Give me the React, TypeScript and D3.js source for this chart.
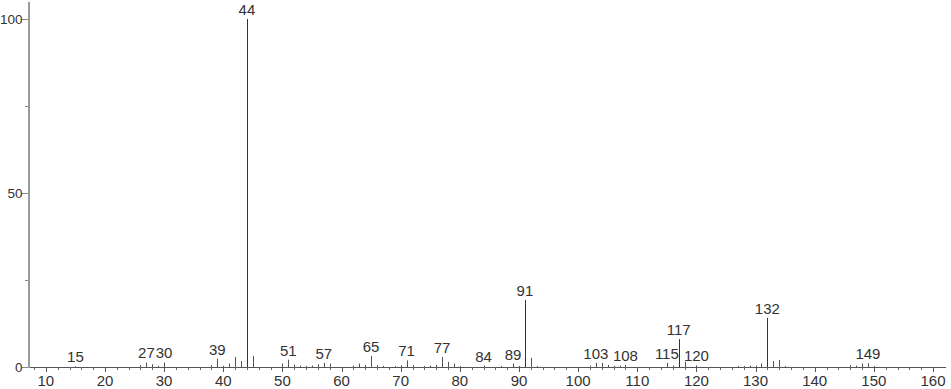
import React from "react";
import * as d3 from "d3";

const mzValues: number[] = [
  15, 26, 27, 28, 29, 30, 38, 39, 40, 41, 42, 43, 44, 45,
  50, 51, 52, 53, 54, 55, 56, 57, 58,
  62, 63, 64, 65, 66, 67, 69, 70, 71, 72, 74, 75, 76, 77, 78, 79, 80,
  84, 87, 89, 90, 91, 92, 93,
  102, 103, 104, 105, 106, 107, 108,
  115, 116, 117, 118, 120,
  127, 128, 129, 130, 131, 132, 133, 134, 135,
  146, 147, 148, 149, 150,
];
const intensities: number[] = [
  0.2, 0.5, 1.3, 0.8, 0.3, 1.3, 0.5, 2.4, 0.3, 1.0, 2.9, 1.7, 100, 3.2,
  1.0, 2.1, 0.7, 0.4, 0.3, 0.4, 0.8, 1.2, 1.0,
  0.4, 1.0, 0.6, 3.2, 0.5, 0.3, 0.3, 0.5, 1.9, 0.5, 0.3, 0.4, 0.6, 2.9, 1.5, 1.0, 0.3,
  0.4, 0.3, 1.0, 0.3, 19.3, 2.6, 0.3,
  0.4, 1.2, 1.2, 0.6, 0.3, 0.4, 0.6,
  1.2, 0.4, 8.0, 1.5, 0.5,
  0.3, 0.3, 0.4, 0.4, 1.0, 14.1, 1.7, 2.0, 0.3,
  0.5, 0.4, 1.0, 1.1, 0.3,
];
const labelledPeaks: number[] = [
  15, 27, 30, 39, 44, 51, 57, 65, 71, 77, 84, 89, 91, 103, 108, 115, 117, 120, 132, 149,
];
const xTickLabels: number[] = [10, 20, 30, 40, 50, 60, 70, 80, 90, 100, 110, 120, 130, 140, 150, 160];
const yTickLabels: number[] = [0, 50, 100];
const yMinorTicks: number[] = [25, 75];

const W = 951;
const H = 389;
const FONT = "'Liberation Sans', Arial, sans-serif";

export default function App() {
  const x = d3.scaleLinear().domain([7.15, 162.2]).range([29, 946]);
  const y = d3.scaleLinear().domain([0, 100]).range([367, 19]);
  const y0 = y(0);
  const minorX = d3.range(8, 162, 2).filter((v) => v % 10 !== 0);
  const lookup = new Map(mzValues.map((m, i) => [m, intensities[i]]));
  const px = (v: number) => Math.round(x(v)) + 0.5;

  return (
    <svg
      width={W}
      height={H}
      style={{ position: "absolute", left: 0, top: 0, display: "block", background: "#fff" }}
    >
      {/* x axis */}
      <line x1={29} x2={946} y1={y0 + 0.5} y2={y0 + 0.5} stroke="#555" strokeWidth={1} />
      {minorX.map((v) => (
        <line key={"mx" + v} x1={px(v)} x2={px(v)} y1={y0} y2={y0 + 3} stroke="#666" strokeWidth={1} />
      ))}
      {xTickLabels.map((v) => (
        <g key={"xt" + v}>
          <line x1={px(v)} x2={px(v)} y1={y0} y2={y0 + 5} stroke="#555" strokeWidth={1} />
          <text x={x(v)} y={386} textAnchor="middle" fontFamily={FONT} fontSize={15} fill="#333">
            {v}
          </text>
        </g>
      ))}

      {/* y axis */}
      <line x1={29} x2={29} y1={2} y2={y0 + 1} stroke="#9a9a9a" strokeWidth={2} />
      {yTickLabels.map((v) => (
        <g key={"yt" + v}>
          <line x1={22} x2={28} y1={Math.round(y(v)) + 0.5} y2={Math.round(y(v)) + 0.5} stroke="#888" strokeWidth={1} />
          <text x={22.5} y={y(v) + 5} textAnchor="end" fontFamily={FONT} fontSize={13.5} fill="#333">
            {v}
          </text>
        </g>
      ))}
      {yMinorTicks.map((v) => (
        <line key={"ym" + v} x1={25} x2={28} y1={Math.round(y(v)) + 0.5} y2={Math.round(y(v)) + 0.5} stroke="#888" strokeWidth={1} />
      ))}

      {/* peak labels */}
      {labelledPeaks.map((m) => (
        <text
          key={"pl" + m}
          x={x(m)}
          y={y(lookup.get(m) ?? 0) - 4}
          textAnchor="middle"
          fontFamily={FONT}
          fontSize={15}
          fill="#333"
        >
          {m}
        </text>
      ))}

      {/* peaks */}
      {mzValues.map((m, i) => (
        <line
          key={"pk" + m}
          x1={px(m)}
          x2={px(m)}
          y1={y0}
          y2={y(intensities[i])}
          stroke={intensities[i] > 5 ? "#333" : "#555"}
          strokeWidth={1}
        />
      ))}
    </svg>
  );
}
